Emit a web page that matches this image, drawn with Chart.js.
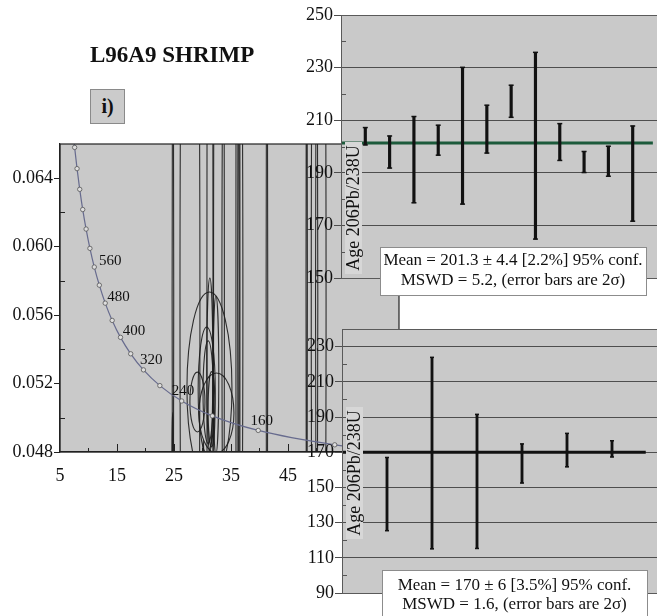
<!DOCTYPE html>
<html>
<head>
<meta charset="utf-8">
<script src="https://cdn.jsdelivr.net/npm/chart.js@4.4.1/dist/chart.umd.min.js"></script>
<style>
  html, body { margin: 0; padding: 0; background: #fff; }
  #wrap { position: relative; width: 657px; height: 616px; overflow: hidden;
          font-family: "Liberation Serif", "Times New Roman", serif; }
  canvas { position: absolute; }
  #conc  { left: 0; top: 0; }
  #wmTop { left: 300px; top: 0; }
  #wmBot { left: 300px; top: 310px; }
  #title { position: absolute; left: 90px; top: 43px; font-weight: bold; font-size: 23px;
           line-height: 1; white-space: nowrap; color: #111; }
  #panel { position: absolute; left: 90px; top: 89px; width: 33px; height: 33px;
           border: 1px solid #8a8a8a; background: #cbcbcb; font-weight: bold; font-size: 20px;
           display: flex; align-items: center; justify-content: center; color: #111; }
</style>
</head>
<body>
<div id="wrap">
  <canvas id="conc" width="657" height="616"></canvas>
  <canvas id="wmTop" width="357" height="300"></canvas>
  <canvas id="wmBot" width="357" height="306"></canvas>
  <div id="title">L96A9 SHRIMP</div>
  <div id="panel">i)</div>
</div>
<script>
// ---- Tera-Wasserburg concordia nodes (age in Ma, 238U/206Pb, 207Pb/206Pb) ----
const concAges = [810, 800, 760, 720, 680, 640, 600, 560, 520, 480, 440, 400, 360, 320, 280, 240, 200, 160, 120, 100];
const concX = [7.469, 7.569, 7.992, 8.463, 8.989, 9.581, 10.252, 11.019, 11.904, 12.936, 14.157, 15.621,
               17.411, 19.649, 22.527, 26.363, 31.735, 39.790, 53.220, 63.970];
const concY = [0.06611, 0.06580, 0.06456, 0.06335, 0.06217, 0.06103, 0.05990, 0.05881, 0.05775, 0.05670,
               0.05569, 0.05470, 0.05374, 0.05280, 0.05188, 0.05098, 0.05011, 0.04926, 0.04842, 0.04802];
const concLabelAges = [160, 240, 320, 400, 480, 560];

// ---- analysis error ellipses: centre and half-axes (data units) ----
const ellX  = [31.23, 30.75, 32.46, 29.12, 31.30, 32.37, 31.00, 31.60,
               27.81, 31.32, 35.26, 36.23, 36.32, 41.32, 50.40, 50.05, 24.82, 24.75, 30.15, 32.90, 48.30];
const ellY  = [0.05174, 0.05162, 0.05028, 0.05092, 0.05309, 0.05250, 0.05150, 0.05050,
               0.0570, 0.0570, 0.0570, 0.0570, 0.0580, 0.0570, 0.0570, 0.0570, 0.0570, 0.0475, 0.0475, 0.0570, 0.0580];
const ellRX = [3.95, 1.50, 3.07, 1.32, 0.53, 0.50, 0.90, 0.60,
               1.75, 0.53, 1.84, 0.35, 0.14, 0.14, 1.30, 0.20, 0.14, 0.10, 0.08, 0.95, 0.12];
const ellRY = [0.00561, 0.00368, 0.00234, 0.00175, 0.00508, 0.00460, 0.00300, 0.00220,
               0.035, 0.035, 0.035, 0.035, 0.030, 0.035, 0.035, 0.035, 0.035, 0.0028, 0.0012, 0.035, 0.035];

// ---- concordia axis ticks ----
const concXTicks = [5, 15, 25, 35, 45];
const concXMinor = [10, 20, 30, 40, 50, 60];
const concXInner = [15, 25, 35, 45, 55];
const concYTicks = [0.048, 0.052, 0.056, 0.060, 0.064];
const concYMinor = [0.050, 0.054, 0.058, 0.062];

// ---- weighted mean, upper group (Ma, 2σ) ----
const topAge = [203.9, 197.9, 195.0, 202.4, 204.1, 206.6, 217.2, 200.3, 201.7, 194.1, 194.4, 189.7];
const topErr = [3.3, 6.1, 16.4, 5.7, 26.0, 9.1, 6.1, 35.5, 7.0, 4.0, 5.7, 18.1];
const topMean = 201.3, topMeanErr = 4.4, topMeanPct = 2.2, topMSWD = 5.2;
const topMeanSpan = [0, 12.83];
const topTicks = [150, 170, 190, 210, 230, 250];
const topMinor = [160, 180, 200, 220, 240];

// ---- weighted mean, lower group (Ma, 2σ) ----
const botAge = [146.2, 169.5, 153.4, 163.6, 171.2, 171.9];
const botErr = [20.8, 54.4, 38.1, 11.1, 9.5, 4.6];
const botMean = 170, botMeanErr = 6, botMeanPct = 3.5, botMSWD = 1.6;
const botMeanSpan = [0, 6.75];
const botTicks = [90, 110, 130, 150, 170, 190, 210, 230];
const botMinor = [100, 120, 140, 160, 180, 200, 220];

const SERIF = '"Liberation Serif", "Times New Roman", serif';
Chart.defaults.font.family = SERIF;
Chart.defaults.color = '#111';
const PLOT_GREY = '#c9c9c9';

// ---------- shared plugins ----------
const plotBackground = {
  id: 'plotBackground',
  beforeDraw(chart) {
    const a = chart.chartArea, c = chart.ctx;
    c.save(); c.fillStyle = PLOT_GREY; c.fillRect(a.left, a.top, a.right - a.left, a.bottom - a.top); c.restore();
  }
};

// ---------- concordia diagram ----------
const concPoints = concX.map((x, i) => ({ x, y: concY[i] }));
const concRadius = concAges.map(a => (a % 40 === 0 && a <= 800 && a >= 120) ? 2.2 : 0);

const ellipsePlugin = {
  id: 'ellipses',
  beforeDatasetsDraw(chart) {
    const a = chart.chartArea, c = chart.ctx, xs = chart.scales.x, ys = chart.scales.y;
    c.save();
    c.beginPath(); c.rect(a.left, a.top, a.right - a.left, a.bottom - a.top); c.clip();
    c.strokeStyle = 'rgba(28,28,28,0.9)';
    c.lineWidth = 1.1;
    ellX.forEach((ex, i) => {
      const cx = xs.getPixelForValue(ex), cy = ys.getPixelForValue(ellY[i]);
      const rx = Math.abs(xs.getPixelForValue(ex + ellRX[i]) - cx);
      const ry = Math.abs(ys.getPixelForValue(ellY[i] + ellRY[i]) - cy);
      c.beginPath();
      c.ellipse(cx, cy, rx, ry, 0, 0, Math.PI * 2);
      c.stroke();
    });
    c.restore();
  }
};

const ageLabelPlugin = {
  id: 'ageLabels',
  afterDatasetsDraw(chart) {
    const c = chart.ctx, xs = chart.scales.x, ys = chart.scales.y;
    const shift = { 160: [-7.6, -5.5], 240: [-10, -6], 320: [-3.5, -5.7], 400: [2.2, -2.3], 480: [2, -2.3], 560: [4.7, -2] };
    c.save();
    c.font = '15px ' + SERIF; c.fillStyle = '#111'; c.textAlign = 'left'; c.textBaseline = 'alphabetic';
    concLabelAges.forEach(age => {
      const i = concAges.indexOf(age);
      const px = xs.getPixelForValue(concX[i]), py = ys.getPixelForValue(concY[i]);
      const d = shift[age];
      c.fillText(String(age), px + d[0], py + d[1]);
    });
    c.restore();
  }
};

const concFrame = {
  id: 'concFrame',
  afterDraw(chart) {
    const a = chart.chartArea, c = chart.ctx, xs = chart.scales.x, ys = chart.scales.y;
    c.save();
    c.strokeStyle = '#222'; c.lineWidth = 1.2;
    c.strokeRect(a.left, a.top, a.right - a.left, a.bottom - a.top);
    c.lineWidth = 1;
    c.beginPath();
    concXInner.forEach(v => { const p = Math.round(xs.getPixelForValue(v)) + 0.5; if (p < a.right) { c.moveTo(p, a.bottom); c.lineTo(p, a.bottom - 8); } });
    concXMinor.forEach(v => { const p = Math.round(xs.getPixelForValue(v)) + 0.5; if (p < a.right) { c.moveTo(p, a.bottom); c.lineTo(p, a.bottom - 4); } });
    concYMinor.forEach(v => { const p = Math.round(ys.getPixelForValue(v)) + 0.5; c.moveTo(a.left, p); c.lineTo(a.left + 5, p); });
    c.stroke();
    c.restore();
  }
};

new Chart(document.getElementById('conc'), {
  type: 'scatter',
  data: {
    datasets: [{
      type: 'line',
      data: concPoints,
      borderColor: '#676b8e',
      borderWidth: 1.2,
      cubicInterpolationMode: 'monotone',
      pointRadius: concRadius,
      pointBackgroundColor: '#dedede',
      pointBorderColor: '#555',
      pointBorderWidth: 0.8,
      fill: false
    }]
  },
  options: {
    responsive: false, animation: false, devicePixelRatio: 1,
    layout: { autoPadding: false, padding: { left: 0, top: 144, right: 258, bottom: 124 } },
    plugins: { legend: { display: false }, tooltip: { enabled: false } },
    scales: {
      x: {
        type: 'linear', min: 5, max: 64.5,
        afterBuildTicks: ax => { ax.ticks = concXTicks.map(v => ({ value: v })); },
        afterFit: s => { s.height = 40; },
        ticks: { font: { size: 18 }, color: '#111', padding: 13, maxRotation: 0, autoSkip: false,
                 callback: v => String(v) },
        grid: { display: true, drawOnChartArea: false, drawTicks: false, color: 'rgba(0,0,0,0)' },
        border: { display: true, color: '#222', width: 1.2 }
      },
      y: {
        type: 'linear', min: 0.048, max: 0.066,
        afterBuildTicks: ax => { ax.ticks = concYTicks.map(v => ({ value: v })); },
        afterFit: s => { s.width = 60; },
        ticks: { font: { size: 18 }, color: '#111', padding: 1, autoSkip: false,
                 callback: v => Number(v).toFixed(3) },
        grid: { display: true, drawOnChartArea: false, drawTicks: true, tickLength: 6, color: '#222' },
        border: { display: true, color: '#222', width: 1.2 }
      }
    }
  },
  plugins: [plotBackground, ellipsePlugin, ageLabelPlugin, concFrame]
});

// ---------- weighted-mean age panels ----------
function meanPanel(id, p) {
  const bars = p.ages.map((v, i) => ({ x: i + 1, y: [v - p.errs[i], v + p.errs[i]] }));
  const caps = [];
  p.ages.forEach((v, i) => { caps.push({ x: i + 1, y: v - p.errs[i] }, { x: i + 1, y: v + p.errs[i] }); });
  const meanLine = p.span.map(x => ({ x, y: p.mean }));

  const deco = {
    id: 'meanDeco',
    afterDatasetsDraw(chart) {
      const a = chart.chartArea, c = chart.ctx, ys = chart.scales.y;
      c.save();
      // minor ticks on the inside of the age axis
      c.strokeStyle = '#555'; c.lineWidth = 1; c.beginPath();
      p.minor.forEach(v => { const y = Math.round(ys.getPixelForValue(v)) + 0.5; c.moveTo(a.left, y); c.lineTo(a.left + 5, y); });
      c.stroke();
      // frame
      c.strokeStyle = '#5a5a5a'; c.strokeRect(a.left + 0.5, a.top + 0.5, a.right - a.left, a.bottom - a.top);
      // axis title inside the plot
      const cy = a.top + p.titleDy;
      c.fillStyle = '#d7d7d7';
      c.fillRect(a.left + 4, cy - 66, 17, 132);
      c.translate(a.left + 12.5, cy); c.rotate(-Math.PI / 2);
      c.font = '18px ' + SERIF; c.fillStyle = '#111'; c.textAlign = 'center'; c.textBaseline = 'middle';
      c.fillText('Age 206Pb/238U', 0, 1);
      c.restore();
    },
    afterDraw(chart) {
      const c = chart.ctx, b = p.box;
      c.save();
      c.fillStyle = '#fff'; c.fillRect(b.x, b.y, b.w, b.h);
      c.strokeStyle = '#8c8c8c'; c.lineWidth = 1; c.strokeRect(b.x + 0.5, b.y + 0.5, b.w, b.h);
      c.font = '17px ' + SERIF; c.fillStyle = '#111'; c.textAlign = 'center'; c.textBaseline = 'alphabetic';
      c.fillText(p.line1, b.x + b.w / 2, b.base1);
      c.fillText(p.line2, b.x + b.w / 2, b.base2);
      c.restore();
    }
  };

  return new Chart(document.getElementById(id), {
    type: 'scatter',
    data: {
      datasets: [
        { type: 'line', data: meanLine, borderColor: p.meanColor, borderWidth: 3, pointRadius: 0, order: 3 },
        { type: 'bar', data: bars, backgroundColor: '#111', borderWidth: 0, barThickness: p.barWidth, order: 2 },
        { type: 'scatter', data: caps, pointStyle: 'line', pointRadius: p.capR, borderColor: '#111', borderWidth: 1.5, order: 1 }
      ]
    },
    options: {
      responsive: false, animation: false, devicePixelRatio: 1,
      layout: { autoPadding: false, padding: { left: 0, top: p.padTop, right: 0, bottom: p.padBottom } },
      plugins: { legend: { display: false }, tooltip: { enabled: false } },
      scales: {
        x: { type: 'linear', min: 0, max: p.xMax, display: false, offset: false },
        y: {
          type: 'linear', min: p.yMin, max: p.yMax,
          afterBuildTicks: ax => { ax.ticks = p.ticks.map(v => ({ value: v })); },
          afterFit: s => { s.width = p.axisWidth; },
          ticks: { font: { size: 18 }, color: '#111', padding: 1, autoSkip: false, callback: v => String(v) },
          grid: { display: true, drawOnChartArea: true, drawTicks: true, tickLength: 7, color: '#4e4e4e', lineWidth: 1 },
          border: { display: true, color: '#4e4e4e', width: 1 }
        }
      }
    },
    plugins: [plotBackground, deco]
  });
}

meanPanel('wmTop', {
  ages: topAge, errs: topErr, mean: topMean, span: topMeanSpan, xMax: 13,
  yMin: 150, yMax: 250, ticks: topTicks, minor: topMinor,
  axisWidth: 41, padTop: 15, padBottom: 22, meanColor: '#1c5a3b', barWidth: 2.5, capR: 2.5,
  titleDy: 193,
  box: { x: 80, y: 247, w: 266, h: 48, base1: 265, base2: 285 },
  line1: `Mean = ${topMean} ± ${topMeanErr} [${topMeanPct}%] 95% conf.`,
  line2: `MSWD = ${topMSWD}, (error bars are 2σ)`
});

meanPanel('wmBot', {
  ages: botAge, errs: botErr, mean: botMean, span: botMeanSpan, xMax: 7,
  yMin: 90, yMax: 240, ticks: botTicks, minor: botMinor,
  axisWidth: 42, padTop: 19, padBottom: 23, meanColor: '#111', barWidth: 2.2, capR: 2,
  titleDy: 144,
  box: { x: 82, y: 260, w: 265, h: 52, base1: 280, base2: 299 },
  line1: `Mean = ${botMean} ± ${botMeanErr} [${botMeanPct}%] 95% conf.`,
  line2: `MSWD = ${botMSWD}, (error bars are 2σ)`
});
</script>
</body>
</html>
